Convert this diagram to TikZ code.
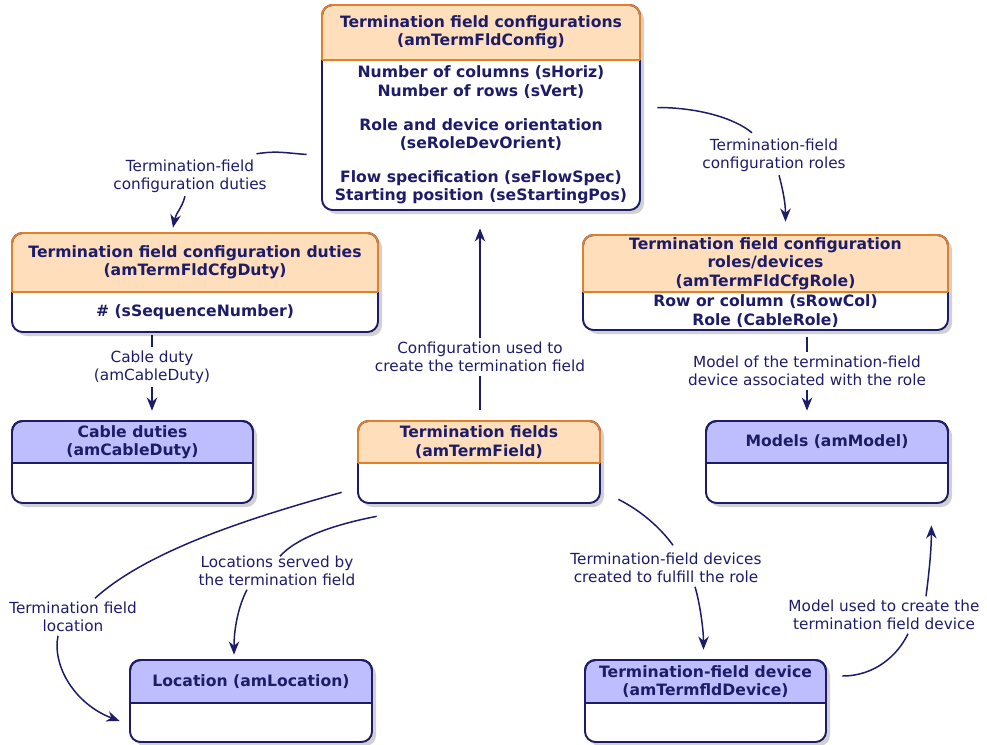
\documentclass[tikz,border=0pt]{standalone}
\usepackage{fontspec}
\setmainfont{DejaVu Sans}
\usetikzlibrary{arrows.meta,calc,fit}

\definecolor{navy}{RGB}{28,28,104}
\definecolor{headorange}{RGB}{255,222,188}
\definecolor{lineorange}{RGB}{226,128,40}
\definecolor{headblue}{RGB}{190,190,255}

\tikzset{
  boxline/.style={draw=navy, line width=1.1pt},
  orangehead/.style={fill=headorange, draw=lineorange},
  bluehead/.style={fill=headblue, draw=navy},
  tabletext/.style={text=navy, font=\fontsize{8.9}{10.4}\selectfont\bfseries, align=center, inner sep=0pt},
  lbl/.style={text=navy, font=\fontsize{8.7}{10.2}\selectfont, align=center, inner sep=2pt},
  link/.style={draw=navy, line width=0.85pt},
  linkarrow/.style={link, -{Stealth[length=7.5pt,width=6pt]}}
}

% table box: name, x1, y1, x2, y2, y of header line, header style, title, fields
\newcommand{\dbtable}[9]{
  \fill[black!18, rounded corners=6pt] (#2+4,#3+4) rectangle (#4+4,#5+4);
  \fill[white, rounded corners=6pt] (#2,#3) rectangle (#4,#5);
  \begin{scope}
    \clip[rounded corners=6pt] (#2,#3) rectangle (#4,#5);
    \path[#7, draw=none] (#2,#3) rectangle (#4,#6);
  \end{scope}
  \draw[boxline, rounded corners=6pt] (#2,#3) rectangle (#4,#5);
  \draw[#7, fill=none, line width=1.1pt, rounded corners=6pt] (#2,#6) -- (#2,#3) -- (#4,#3) -- (#4,#6);
  \draw[#7, fill=none, line width=1.1pt] (#2,#6) -- (#4,#6);
  \node[tabletext] at ({(#2+#4)/2},{(#3+#6)/2}) {#8};
  \node[tabletext] at ({(#2+#4)/2},{(#6+#5)/2}) {#9};
  \node[fit={(#2,#3) (#4,#5)}, inner sep=0pt] (#1) {};
}

\begin{document}
\begin{tikzpicture}[x=0.02cm, y=-0.02cm]
  \useasboundingbox (0,0) rectangle (987,744);

  % tables
  \dbtable{cfg}{322}{5}{640}{210}{60}{orangehead}
    {Termination field configurations\\(amTermFldConfig)}
    {Number of columns (sHoriz)\\Number of rows (sVert)\\[9pt]Role and device orientation\\(seRoleDevOrient)\\[9pt]Flow specification (seFlowSpec)\\Starting position (seStartingPos)}
  \dbtable{duty}{12}{233}{378}{332}{292}{orangehead}
    {Termination field configuration duties\\(amTermFldCfgDuty)}
    {\# (sSequenceNumber)}
  \dbtable{role}{583}{235}{948}{330}{292}{orangehead}
    {Termination field configuration\\roles/devices\\(amTermFldCfgRole)}
    {Row or column (sRowCol)\\Role (CableRole)}
  \dbtable{cable}{12}{421}{253}{503}{463}{bluehead}
    {Cable duties\\(amCableDuty)}{}
  \dbtable{tf}{358}{421}{600}{503}{463}{orangehead}
    {Termination fields\\(amTermField)}{}
  \dbtable{model}{706}{421}{948}{503}{463}{bluehead}
    {Models (amModel)}{}
  \dbtable{loc}{130}{660}{372}{742}{703}{bluehead}
    {Location (amLocation)}{}
  \dbtable{dev}{585}{660}{826}{742}{703}{bluehead}
    {Termination-field device\\(amTermfldDevice)}{}

  % link labels
  \begin{scope}[every node/.style={lbl}]
    \node (lduty) at (190,176) {Termination-field\\configuration duties};
    \node (lroles) at (774,155) {Termination-field\\configuration roles};
    \node (lcable) at (152,367) {Cable duty\\(amCableDuty)};
    \node (lcfg) at (480,357) {Configuration used to\\create the termination field};
    \node (lmodel) at (807,371) {Model of the termination-field\\device associated with the role};
    \node (ltfloc) at (73,617) {Termination field\\location};
    \node (lserved) at (277,571) {Locations served by\\the termination field};
    \node (ldevs) at (666,568) {Termination-field devices\\created to fulfill the role};
    \node (lmused) at (884,615) {Model used to create the\\termination field device};
  \end{scope}

  % links
  \draw[link] ($(cfg.west)+(-15,47)$) .. controls +(-25,-2) and +(20,-3) .. ($(lduty.north east)+(-14,-2)$);
  \draw[linkarrow] ($(lduty.south)+(-5,0)$) .. controls +(-3,12) and +(3,-15) .. ($(duty.north)+(-22,-5)$);

  \draw[link] ($(cfg.east)+(17,0)$) .. controls +(40,0) and +(-18,-15) .. ($(lroles.north)+(-22,-2)$);
  \draw[linkarrow] ($(lroles.south)+(5,0)$) .. controls +(4,15) and +(0,-18) .. ($(role.north)+(20,-13)$);

  \draw[link] ($(duty.south -| lcable)+(0,3)$) -- (lcable.north);
  \draw[linkarrow] (lcable.south) -- ($(cable.north -| lcable)+(0,-10)$);

  \draw[link] ($(tf.north -| lcfg)+(0,-11)$) -- (lcfg.south);
  \draw[linkarrow] (lcfg.north) -- ($(cfg.south -| lcfg)+(0,18)$);

  \draw[link] ($(role.south -| lmodel)+(0,7)$) -- (lmodel.north);
  \draw[linkarrow] (lmodel.south) -- ($(model.north -| lmodel)+(0,-10)$);

  \draw[link] ($(tf.south west)+(-16,-11)$) .. controls +(-82,23) and +(55,-50) .. ($(ltfloc.north)+(22,0)$);
  \draw[linkarrow] ($(ltfloc.south)+(-15,0)$) .. controls +(-6,30) and +(-45,-17) .. ($(loc.west)+(-10,20)$);

  \draw[link] ($(tf.south west)+(19,13)$) .. controls +(-47,9) and +(15,-17) .. ($(lserved.north)+(3,4)$);
  \draw[linkarrow] ($(lserved.south)+(-30,0)$) .. controls +(-9,17) and +(0,-25) .. ($(loc.north)+(-17,-5)$);

  \draw[link] ($(tf.south east)+(18,-4)$) .. controls +(22,11) and +(-13,-18) .. ($(ldevs.north)+(7,-4)$);
  \draw[linkarrow] ($(ldevs.south)+(29,0)$) .. controls +(5,17) and +(0,-20) .. ($(dev.north)+(-2,-10)$);

  \draw[link] ($(dev.east)+(16,-25)$) .. controls +(33,0) and +(-10,21) .. ($(lmused.south)+(24,0)$);
  \draw[linkarrow] ($(lmused.north)+(42,0)$) .. controls +(3,-23) and +(0,25) .. ($(model.south east)+(-17,22)$);
\end{tikzpicture}
\end{document}
